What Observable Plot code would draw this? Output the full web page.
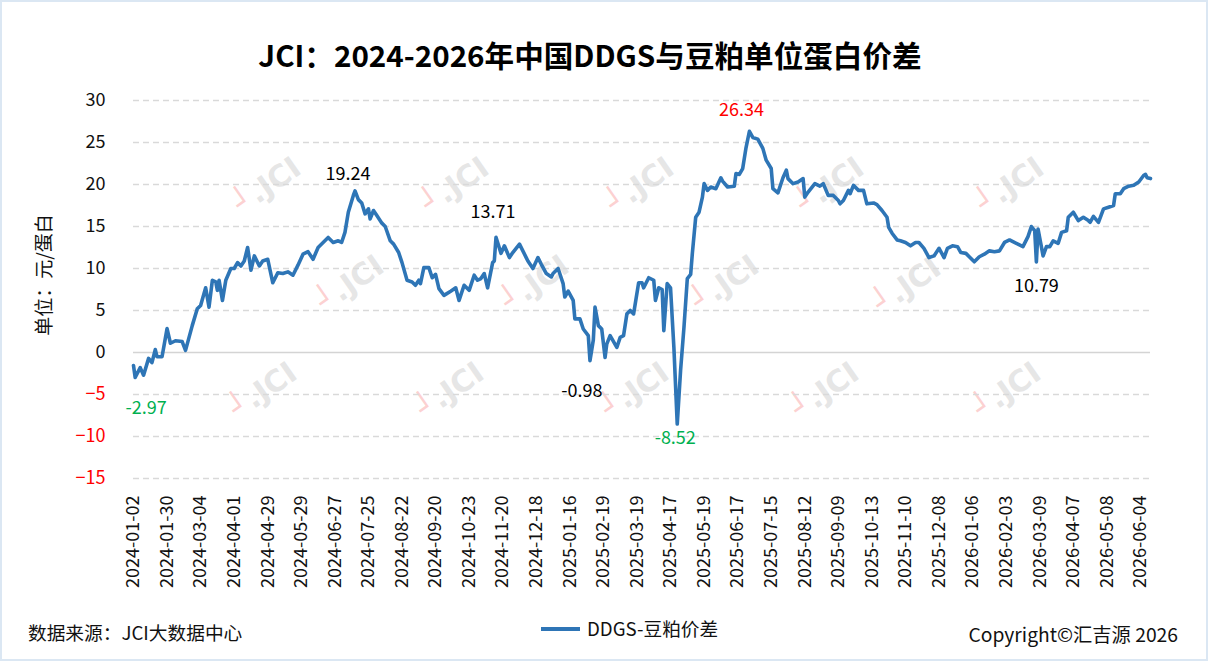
<!DOCTYPE html>
<html>
<head>
<meta charset="utf-8">
<script src="https://cdn.jsdelivr.net/npm/d3@7"></script>
<script src="https://cdn.jsdelivr.net/npm/@observablehq/plot@0.6"></script>
<style>
  html, body { margin: 0; padding: 0; background: #fff; overflow: hidden; }
  body { width: 1208px; height: 661px; position: relative; font-family: "Noto Sans CJK SC", "Noto Sans", sans-serif; color: #111; }
  .abs { position: absolute; white-space: nowrap; }
  #border { left: 0; top: 0; width: 1208px; height: 661px; box-sizing: border-box; border: 2px solid #dbe7f3; pointer-events: none; z-index: 5; }
  #title { left: 0; top: 35px; width: 1180px; text-align: center; font-size: 29.6px; font-weight: bold; line-height: 40px; color: #000; }
  #ylabel { left: 42px; top: 275px; transform: translate(-50%, -50%) rotate(-90deg); font-size: 19px; color: #111; }
  #chart { left: 0; top: 80px; z-index: 2; }
  #legend { left: 541px; top: 616px; font-size: 18.7px; line-height: 24px; color: #111; }
  #legend .sw { display: inline-block; width: 39px; height: 3.5px; background: #2e75b6; vertical-align: middle; margin-right: 7px; position: relative; top: -2px; }
  #source { left: 28px; top: 620px; font-size: 18.7px; line-height: 24px; color: #111; }
  #copy { right: 30px; top: 622px; font-size: 19.3px; line-height: 24px; color: #111; }
  .wm { transform: translate(-50%, -50%) rotate(-35deg); font-size: 30px; font-weight: bold; color: rgba(200,200,200,0.45); z-index: 1; font-family: "DejaVu Sans", sans-serif; }
  .wm .p { color: rgba(250,170,170,0.55); }
</style>
</head>
<body>
<div id="border" class="abs"></div>
<div id="title" class="abs">JCI：2024-2026年中国DDGS与豆粕单位蛋白价差</div>
<div id="ylabel" class="abs">单位：元/蛋白</div>
<div id="wms"></div>
<div id="chart" class="abs"></div>
<div id="source" class="abs">数据来源：JCI大数据中心</div>
<div id="legend" class="abs"><span class="sw"></span>DDGS-豆粕价差</div>
<div id="copy" class="abs">Copyright©汇吉源 2026</div>
<script>
// ---- Data ----
// x-axis category labels (every 20 trading days)
const tickDates = [
  "2024-01-02","2024-01-30","2024-03-04","2024-04-01","2024-04-29","2024-05-29","2024-06-27","2024-07-25",
  "2024-08-22","2024-09-20","2024-10-23","2024-11-20","2024-12-18","2025-01-16","2025-02-19","2025-03-19",
  "2025-04-17","2025-05-19","2025-06-17","2025-07-15","2025-08-12","2025-09-09","2025-10-13","2025-11-10",
  "2025-12-08","2026-01-06","2026-02-03","2026-03-09","2026-04-07","2026-05-08","2026-06-04"
];
const daysPerTick = 20;
const lastDay = 606;

// trading-day index of each sampled point
const dayIndex = [
  0,1,4,6,9,11,13,14,17,20,
  22,25,29,31,35,38,40,43,45,47,
  49,50,51,53,55,58,60,62,64,66,
  68,70,72,75,77,80,83,86,89,92,
  95,98,101,104,107,110,113,116,119,122,
  124,126,128,131,132,134,136,138,140,141,
  143,145,148,150,153,155,158,160,163,166,
  168,170,171,173,176,178,180,182,185,189,
  192,194,197,200,203,205,207,209,211,214,
  215,216,219,221,224,226,230,234,235,238,
  241,243,246,249,250,253,256,257,259,262,
  263,266,268,271,272,274,275,277,279,281,
  282,284,288,290,292,294,296,298,301,303,
  304,307,310,311,313,315,316,318,320,322,
  324,326,328,330,332,333,335,337,339,340,
  342,344,347,350,351,354,358,359,361,363,
  365,367,369,372,375,377,380,381,384,387,
  389,390,393,396,399,400,402,406,409,411,
  414,417,420,421,423,426,427,429,432,435,
  437,441,443,446,449,450,452,455,457,460,
  463,466,468,471,474,477,480,483,485,488,
  491,493,496,498,501,504,507,510,513,516,
  519,522,524,527,530,533,535,537,538,539,
  542,544,546,548,551,553,556,557,560,563,
  566,569,570,572,575,578,581,584,585,588,
  590,593,596,599,602,603,604,606
];
// DDGS - soybean meal unit-protein spread (元/蛋白)
const spread = [
  -1.55,-2.97,-1.8,-2.7,-0.7,-1.2,0.35,-0.5,-0.5,2.85,
  1.1,1.4,1.3,0.25,3.2,5.2,5.6,7.7,5.4,8.6,
  8.4,7.4,8.6,6.2,8.6,10.0,10.0,10.7,10.3,10.9,
  12.5,9.8,11.5,10.3,10.9,11.1,8.3,9.5,9.4,9.6,
  9.2,10.4,11.7,12.0,11.1,12.5,13.1,13.7,13.1,13.3,
  13.1,14.3,16.7,18.7,19.24,18.2,17.8,16.5,17.1,15.9,
  16.9,16.3,15.4,15.0,13.3,12.9,11.9,10.7,8.6,8.4,
  8.0,8.6,8.2,10.1,10.1,8.9,9.3,7.6,6.8,7.3,
  7.7,6.2,8.0,7.4,9.2,8.6,8.8,9.4,7.7,10.7,
  10.9,13.71,11.8,12.7,11.3,11.9,12.9,11.3,10.9,10.0,
  11.3,10.5,9.4,9.0,9.4,10.0,8.2,6.6,7.3,6.2,
  4.0,4.0,2.8,2.0,-0.98,1.5,5.4,3.2,2.8,-0.6,
  1.0,2.0,0.6,1.8,2.0,4.6,5.0,4.6,8.3,8.3,
  7.7,8.9,8.6,6.2,7.7,7.5,2.6,8.2,7.7,0.6,
  -8.52,-2.1,3.0,8.8,9.3,11.8,16.1,16.7,18.5,20.1,
  19.3,19.7,19.5,20.8,20.4,19.7,19.8,21.3,21.2,21.9,
  24.4,26.34,25.6,25.4,24.3,22.9,21.9,19.5,19.0,20.8,
  21.7,20.7,20.1,20.3,20.7,18.5,19.1,20.1,19.8,20.1,
  18.7,18.7,18.1,17.7,18.1,19.3,18.9,19.9,19.3,19.3,
  17.7,17.8,17.6,16.9,16.1,14.9,14.2,13.4,13.3,13.1,
  12.7,13.1,13.1,12.4,11.3,11.5,12.4,11.3,12.4,12.7,
  12.6,11.9,11.8,11.4,10.8,11.4,11.7,12.1,12.0,12.1,
  13.1,13.4,13.2,12.9,12.6,13.8,15.0,14.5,10.79,14.7,
  11.5,12.6,12.6,13.3,13.0,14.3,14.5,16.1,16.7,15.7,
  16.1,15.7,15.5,16.2,15.5,17.1,17.3,17.5,18.9,18.9,
  19.5,19.8,19.9,20.3,21.1,21.2,20.8,20.7
];
// y-axis ticks
const yTicks = [30, 25, 20, 15, 10, 5, 0, -5, -10, -15];
// annotated extreme points
const annDay = [1, 132, 216, 272, 324, 367, 538];
const annValue = [-2.97, 19.24, 13.71, -0.98, -8.52, 26.34, 10.79];
const annKind = ["low", "high", "high", "low", "low", "peak", "low2"];

// ---- Build ----
const rows = dayIndex.map((d, i) => ({day: d, value: spread[i]}));
const anns = annDay.map((d, i) => ({day: d, value: annValue[i], label: annValue[i].toFixed(2), kind: annKind[i]}));
const tickPos = tickDates.map((_, i) => i * daysPerTick);

const annStyle = {
  low:  {fill: "#00b050", dx: 11, dy: 31},
  high: {fill: "#000000", dx: -5, dy: -20},
  peak: {fill: "#ff0000", dx: -8, dy: -21},
  low2: {fill: "#000000", dx: 0, dy: 24}
};
// per-label fine offsets
const annMarks = anns.map((a, i) => {
  let s = {...annStyle[a.kind]};
  if (i === 1) { s.dx = -7; s.dy = -17; }
  if (i === 2) { s.dx = -3; s.dy = -25; }
  if (i === 3) { s.fill = "#000000"; s.dx = -8; s.dy = 31; }
  if (i === 4) { s.dx = -2; s.dy = 14; }
  return Plot.text([a], {x: "day", y: "value", text: "label", fill: s.fill, dx: s.dx, dy: s.dy, fontSize: 18});
});

const chart = Plot.plot({
  width: 1208,
  height: 510,
  marginTop: 20,
  marginBottom: 112,
  marginLeft: 133,
  marginRight: 58,
  x: {domain: [0, lastDay], axis: null},
  y: {domain: [-15, 30], axis: null},
  style: {fontFamily: "'Noto Sans CJK SC', 'Noto Sans', sans-serif", background: "transparent", color: "#111"},
  marks: [
    Plot.ruleY(yTicks.filter(t => t !== 0), {stroke: "#d9d9d9", strokeWidth: 1.5, strokeDasharray: "6,4"}),
    Plot.ruleY([0], {stroke: "#d4d4d4", strokeWidth: 1.5}),
    Plot.axisY(yTicks.filter(t => t >= 0), {tickSize: 0, tickPadding: 28, fontSize: 18, label: null, fill: "#111"}),
    Plot.axisY(yTicks.filter(t => t < 0), {tickSize: 0, tickPadding: 28, fontSize: 18, label: null, fill: "#ff0000"}),
    Plot.axisX(tickPos, {tickSize: 0, tickPadding: 17, tickRotate: -90, fontSize: 18, label: null,
      tickFormat: d => tickDates[Math.round(d / daysPerTick)], fill: "#111"}),
    Plot.line(rows, {x: "day", y: "value", stroke: "#2e75b6", strokeWidth: 3.6, strokeLinejoin: "round", strokeLinecap: "round"}),
    ...annMarks
  ]
});
document.getElementById("chart").appendChild(chart);

// watermarks (decorative)
const wmPos = [[267,185],[455,185],[640,185],[830,185],[1010,185],
               [350,283],[535,283],[725,283],[907,285],
               [263,390],[450,390],[635,390],[825,390],[1007,390]];
const wms = document.getElementById("wms");
wmPos.forEach(([x, y]) => {
  const d = document.createElement("div");
  d.className = "abs wm";
  d.style.left = x + "px";
  d.style.top = y + "px";
  d.innerHTML = '<span class="p">┘</span>.JCI';
  wms.appendChild(d);
});
</script>
</body>
</html>
